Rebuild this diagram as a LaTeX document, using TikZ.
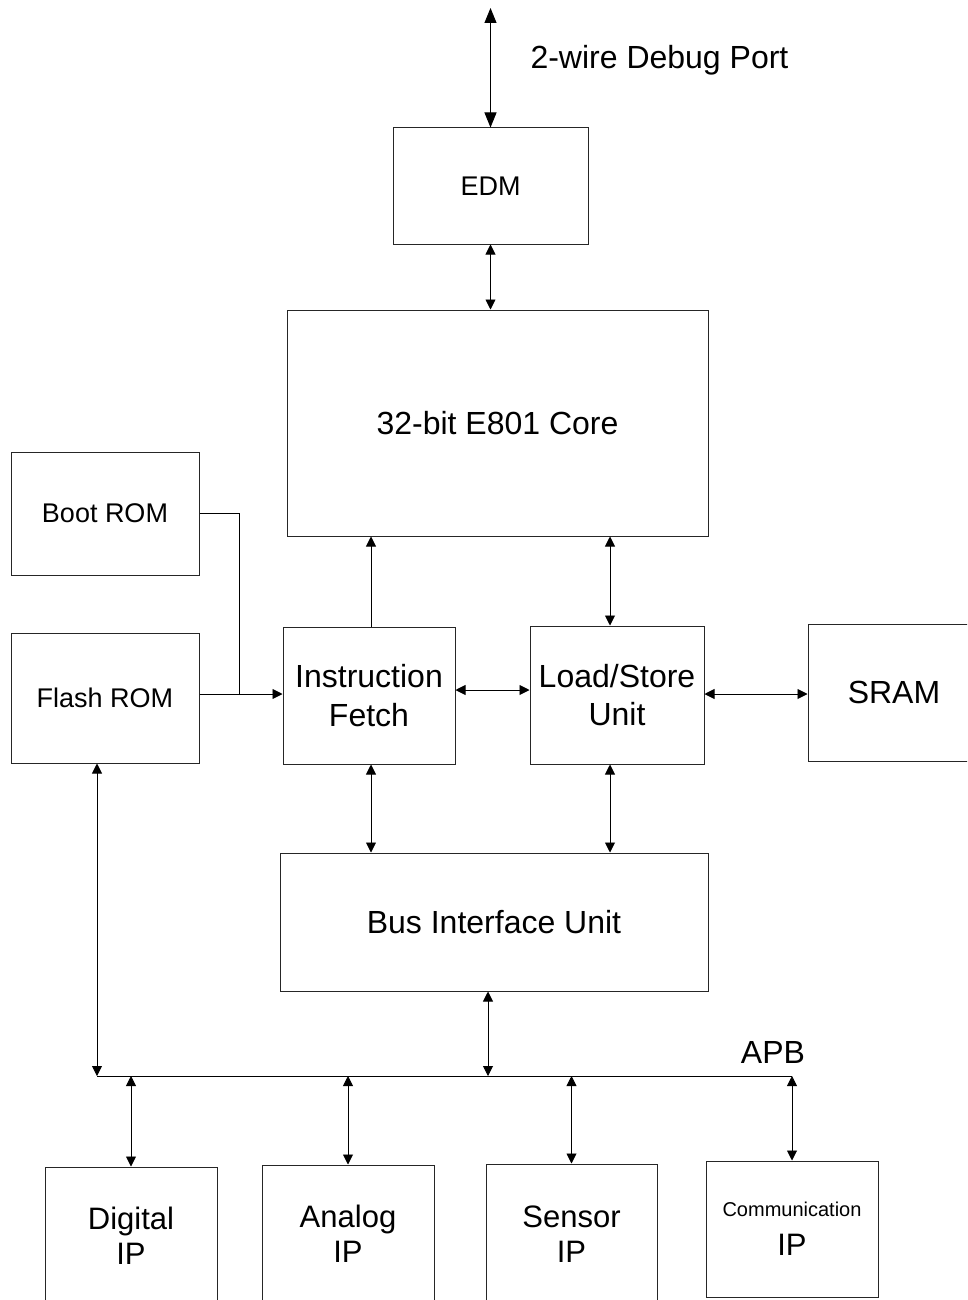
\documentclass[tikz,border=0pt]{standalone}
\usepackage{fontspec}
\setmainfont{Liberation Sans}
\usetikzlibrary{arrows.meta}
\begin{document}
\begin{tikzpicture}[x=1pt,y=-1pt,
  box/.style={draw=black!85,line width=1pt,inner sep=0pt,align=center,rectangle},
  big/.style={font=\fontsize{32}{38.5}\selectfont},
  mid/.style={font=\fontsize{27}{32}\selectfont},
  ipf/.style={font=\fontsize{31}{35}\selectfont},
  conn/.style={line width=0.9pt,draw=black},
  dbl/.style={conn,{Triangle[length=10pt,width=10pt]}-{Triangle[length=10pt,width=10pt]}},
  sgl/.style={conn,-{Triangle[length=10pt,width=10pt]}},
  dblbig/.style={conn,{Triangle[length=15pt,width=12pt]}-{Triangle[length=15pt,width=12pt]}}
]
\clip (0,0) rectangle (967,1300);
\fill[white] (0,0) rectangle (967,1300);

% boxes
\node[box,mid,minimum width=195,minimum height=116] (edm) at (490.5,186) {EDM};
\node[box,big,minimum width=421,minimum height=226] (core) at (497.5,423) {32-bit E801 Core};
\node[box,mid,minimum width=188,minimum height=123] (boot) at (105,513.5) {Boot ROM};
\node[box,mid,minimum width=188,minimum height=130] (flash) at (105,698) {Flash ROM};
\node[box,big,minimum width=172,minimum height=137] (ifu) at (369,695.5) {Instruction\\Fetch};
\node[box,big,minimum width=174,minimum height=138] (lsu) at (617,695) {Load/Store\\Unit};
\node[box,big,minimum width=172,minimum height=137] (sram) at (894,692.5) {SRAM};
\node[box,big,minimum width=428,minimum height=138] (biu) at (494,922) {Bus Interface Unit};
\node[box,ipf,minimum width=172,minimum height=138] (dig) at (131,1236) {Digital\\IP};
\node[box,ipf,minimum width=172,minimum height=138] (ana) at (348,1234) {Analog\\IP};
\node[box,ipf,minimum width=171,minimum height=140] (sen) at (571.5,1234) {Sensor\\IP};
\node[box,ipf,minimum width=172,minimum height=136] (com) at (792,1229) {{\fontsize{20}{22}\selectfont Communication}\\[4pt]IP};

% labels
\node[big,anchor=west] (dbglbl) at (527,60) {2-wire Debug Port};
\node[big] (apblbl) at (773,1052) {APB};

% helper coordinates
\coordinate (dbg) at (490.5,8);
\coordinate (cx371) at (371,0);
\coordinate (cx610) at (610,0);
\coordinate (cx239) at (239,0);
\coordinate (cx97) at (97,0);
\coordinate (cx488) at (488,0);
\coordinate (cy690) at (0,690);
\coordinate (cy694) at (0,694);
\coordinate (busL) at (97,1076);
\coordinate (busR) at (792,1076);

% connectors
\draw[dblbig] (dbg) -- (edm.north);
\draw[dbl] (edm.south) -- (edm.south |- core.north);
\draw[sgl] (cx371 |- ifu.north) -- (cx371 |- core.south);
\draw[dbl] (cx610 |- lsu.north) -- (cx610 |- core.south);
\draw[dbl] (ifu.east |- cy690) -- (lsu.west |- cy690);
\draw[dbl] (lsu.east |- cy694) -- (sram.west |- cy694);
\draw[conn] (boot.east) -| (cx239 |- cy694);
\draw[sgl] (flash.east |- cy694) -- (ifu.west |- cy694);
\draw[dbl] (cx371 |- ifu.south) -- (cx371 |- biu.north);
\draw[dbl] (cx610 |- lsu.south) -- (cx610 |- biu.north);

% APB bus
\draw[conn] (busL) -- (busR);
\draw[dbl] (cx97 |- flash.south) -- (busL);
\draw[dbl] (cx488 |- biu.south) -- (cx488 |- busL);
\draw[dbl] (dig.north |- busL) -- (dig.north);
\draw[dbl] (ana.north |- busL) -- (ana.north);
\draw[dbl] (sen.north |- busL) -- (sen.north);
\draw[dbl] (com.north |- busL) -- (com.north);
\end{tikzpicture}
\end{document}
